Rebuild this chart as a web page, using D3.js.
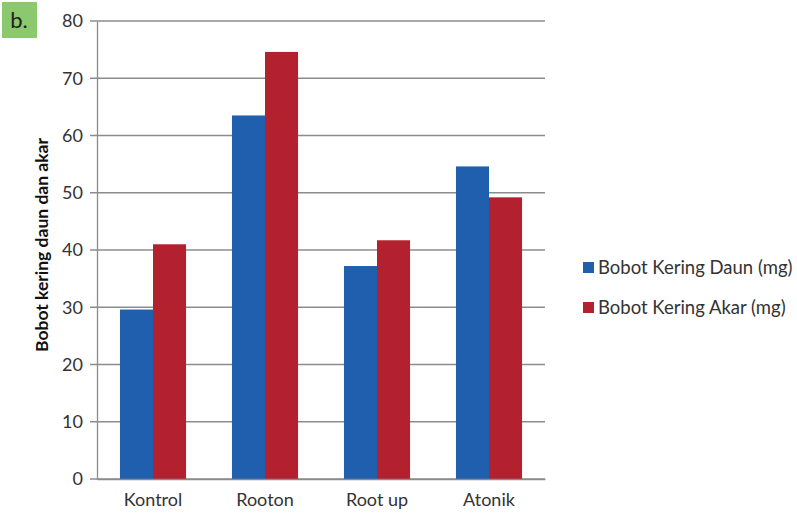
<!DOCTYPE html>
<html><head><meta charset="utf-8">
<script src="https://cdn.jsdelivr.net/npm/d3@7"></script>
<style>body{margin:0;background:#fff;}svg{display:block;font-family:Lato,"Open Sans",sans-serif;}</style>
</head><body>
<svg id="c" width="797" height="516"></svg>
<script>
const categories = ["Kontrol", "Rooton", "Root up", "Atonik"];
const seriesNames = ["Bobot Kering Daun (mg)", "Bobot Kering Akar (mg)"];
const daun = [29.6, 63.5, 37.2, 54.6];
const akar = [41.0, 74.6, 41.7, 49.2];
const yTicks = [0, 10, 20, 30, 40, 50, 60, 70, 80];
const colors = ["#1f5fae", "#b3212f"];

const svg = d3.select("#c");
const mLeft = 97, mRight = 545, mTop = 21, mBottom = 479;

const x = d3.scaleBand().domain(categories).range([mLeft, mRight]).paddingInner(0.41).paddingOuter(0.205);
const xs = d3.scaleBand().domain(seriesNames).range([0, x.bandwidth()]);
const y = d3.scaleLinear().domain([0, 80]).range([mBottom, mTop]);

// label b.
svg.append("rect").attr("x", 2).attr("y", 2).attr("width", 35).attr("height", 36).attr("fill", "#8cc86d");
svg.append("text").attr("x", 19).attr("y", 28).attr("text-anchor", "middle").attr("font-size", 22).attr("fill", "#222").text("b.");

// gridlines
svg.append("g").selectAll("line").data(yTicks).join("line")
  .attr("x1", mLeft - 7).attr("x2", mRight).attr("y1", d => y(d)).attr("y2", d => y(d))
  .attr("stroke", "#8c8c8c").attr("stroke-width", 1.3);

// y axis
const yAxis = d3.axisLeft(y).tickValues(yTicks).tickSize(0).tickPadding(14);
const gy = svg.append("g").attr("transform", `translate(${mLeft},0)`).call(yAxis);
gy.select(".domain").attr("stroke", "#8c8c8c").attr("stroke-width", 1.3);
gy.selectAll("text").attr("font-size", 18).attr("fill", "#333").attr("font-family", "Lato,sans-serif");

// bars
const data = categories.map((c, i) => ({cat: c, vals: [daun[i], akar[i]]}));
const groups = svg.append("g").selectAll("g").data(data).join("g")
  .attr("transform", d => `translate(${x(d.cat)},0)`);
groups.selectAll("rect").data(d => d.vals.map((v, j) => ({v, s: seriesNames[j], j}))).join("rect")
  .attr("x", d => xs(d.s)).attr("width", xs.bandwidth())
  .attr("y", d => y(d.v)).attr("height", d => y(0) - y(d.v))
  .attr("fill", d => colors[d.j]);

// x axis
const xAxis = d3.axisBottom(x).tickSize(0).tickPadding(14);
const gx = svg.append("g").attr("transform", `translate(0,${mBottom})`).call(xAxis);
gx.select(".domain").attr("stroke", "#8c8c8c").attr("stroke-width", 1.3);
gx.selectAll("text").attr("font-size", 18).attr("fill", "#333").attr("font-family", "Lato,sans-serif");

// y title
svg.append("text").attr("transform", "translate(48,245) rotate(-90)").attr("text-anchor", "middle")
  .attr("font-size", 17.5).attr("font-weight", "bold").attr("fill", "#111").text("Bobot kering daun dan akar");

// legend
const lg = svg.append("g").selectAll("g").data(seriesNames).join("g")
  .attr("transform", (d, i) => `translate(583,${262 + i * 40})`);
lg.append("rect").attr("width", 11).attr("height", 11).attr("fill", (d, i) => colors[i]);
lg.append("text").attr("x", 15).attr("y", 12).attr("font-size", 18.5).attr("fill", "#333").text(d => d);
</script>
</body></html>
